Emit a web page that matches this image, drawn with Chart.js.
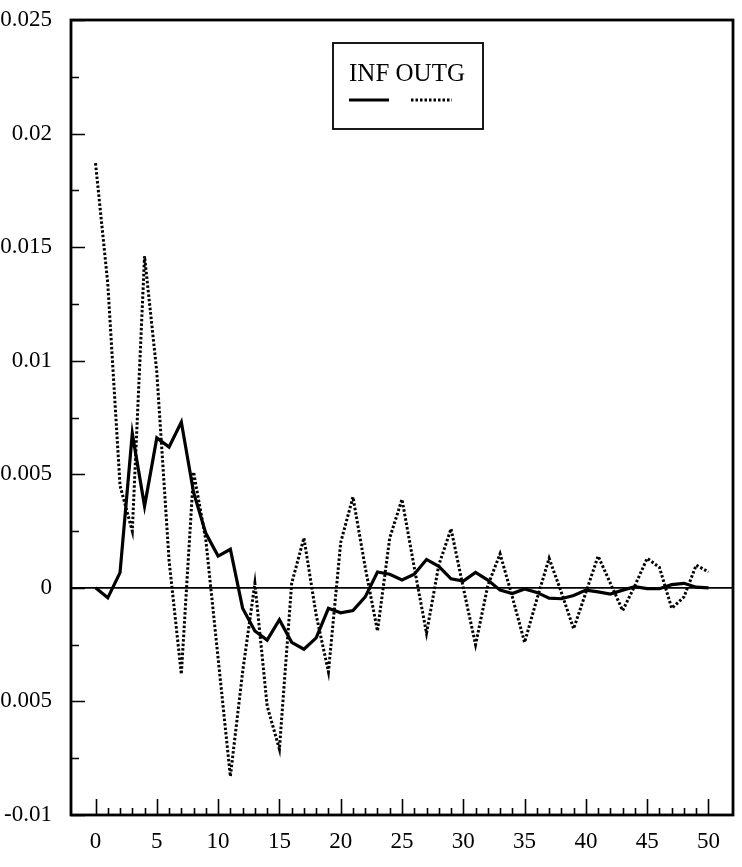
<!DOCTYPE html>
<html>
<head>
<meta charset="utf-8">
<title>INF OUTG</title>
<script src="https://cdn.jsdelivr.net/npm/chart.js@4.4.1/dist/chart.umd.min.js"></script>
<style>
  html, body { margin:0; padding:0; background:#fff; }
  #wrap { width:742px; height:867px; }
</style>
</head>
<body>
<div id="wrap"><canvas id="chart" width="742" height="867"></canvas></div>
<script>
// horizon (periods) and the two responses
const steps = [0,1,2,3,4,5,6,7,8,9,10,11,12,13,14,15,16,17,18,19,20,21,22,23,24,25,
  26,27,28,29,30,31,32,33,34,35,36,37,38,39,40,41,42,43,44,45,46,47,48,49,50];

const infValues = [0,-0.00044,0.00067,0.0068,0.0036,0.0066,0.0062,0.0073,0.0042,0.0024,
  0.0014,0.0017,-0.0009,-0.0019,-0.0023,-0.0014,-0.0024,-0.0027,-0.0022,-0.0009,
  -0.0011,-0.001,-0.0004,0.0007,0.0006,0.00035,0.0006,0.00125,0.00095,0.0004,
  0.0003,0.00068,0.00034,-0.0001,-0.00025,-0.00005,-0.0002,-0.00045,-0.00048,-0.00034,
  -0.0001,-0.00018,-0.00027,-0.0001,0.00005,-0.00003,-0.00004,0.00014,0.0002,0.00003,0];

const outgValues = [0.0187,0.0134,0.0045,0.0025,0.0146,0.0095,0.0012,-0.0038,0.0051,0.0021,
  -0.0031,-0.0083,-0.0037,0.0002,-0.0052,-0.0071,0.0002,0.0022,-0.0012,-0.0037,
  0.002,0.004,0.0009,-0.0019,0.0022,0.0039,0.0009,-0.002,0.001,0.0026,
  0,-0.0025,0.0001,0.0015,-0.0004,-0.0024,-0.0005,0.0013,-0.0002,-0.0018,
  -0.0002,0.0014,0.0002,-0.001,0.0001,0.0013,0.0009,-0.0009,-0.0004,0.001,0.0007];

const xTickValues = [0,5,10,15,20,25,30,35,40,45,50];
const xTickLabels = ['0','5','10','15','20','25','30','35','40','45','50'];
const yTickValues = [-0.01,-0.005,0,0.005,0.01,0.015,0.02,0.025];
const yTickLabels = ['-0.01','-0.005','0','0.005','0.01','0.015','0.02','0.025'];

const serif = "'Liberation Serif', 'Times New Roman', serif";

// frame, inward tick marks and the boxed legend
const framePlugin = {
  id: 'frame',
  afterDatasetsDraw(chart){
    const ctx = chart.ctx, a = chart.chartArea;
    const xs = chart.scales.x, ys = chart.scales.y;
    ctx.save();
    ctx.strokeStyle = '#000';
    ctx.lineWidth = 1.6;
    ctx.beginPath();
    for(let v=0; v<=50; v++){
      const px = Math.round(xs.getPixelForValue(v)) + 0.5;
      const len = v%5===0 ? 16 : 7;
      ctx.moveTo(px, a.bottom); ctx.lineTo(px, a.bottom-len);
    }
    for(let k=0; k<=14; k++){
      const v = -0.01 + k*0.0025;
      const py = Math.round(ys.getPixelForValue(v)) + 0.5;
      const len = k%2===0 ? 14 : 8;
      ctx.moveTo(a.left, py); ctx.lineTo(a.left+len, py);
    }
    ctx.stroke();
    ctx.lineWidth = 2.8;
    ctx.strokeRect(a.left, a.top, a.right-a.left, a.bottom-a.top);

    // legend
    const ds = chart.data.datasets;
    ctx.lineWidth = 1.8;
    ctx.fillStyle = '#fff';
    ctx.fillRect(333, 43, 150, 86);
    ctx.strokeRect(333, 43, 150, 86);
    ctx.fillStyle = '#000';
    ctx.font = '25px ' + serif;
    ctx.textBaseline = 'middle';
    ctx.textAlign = 'left';
    ctx.fillText(ds[0].label + ' ' + ds[1].label, 349, 74);
    ctx.lineWidth = ds[0].borderWidth;
    ctx.strokeStyle = ds[0].borderColor;
    ctx.beginPath(); ctx.moveTo(349, 100); ctx.lineTo(389, 100); ctx.stroke();
    ctx.lineWidth = ds[1].borderWidth;
    ctx.strokeStyle = ds[1].borderColor;
    ctx.setLineDash(ds[1].borderDash);
    ctx.beginPath(); ctx.moveTo(411, 100); ctx.lineTo(452, 100); ctx.stroke();
    ctx.restore();
  }
};

new Chart(document.getElementById('chart'), {
  type: 'line',
  data: {
    datasets: [
      { label: 'INF', data: steps.map((s,i)=>({x:s, y:infValues[i]})),
        borderColor: '#000', borderWidth: 3.2, pointRadius: 0, tension: 0, fill: false },
      { label: 'OUTG', data: steps.map((s,i)=>({x:s, y:outgValues[i]})),
        borderColor: '#000', borderWidth: 3, borderDash: [2.5,2], pointRadius: 0, tension: 0, fill: false }
    ]
  },
  options: {
    responsive: false,
    animation: false,
    devicePixelRatio: 1,
    layout: { padding: { top: 20, right: 9, bottom: 0, left: 0 } },
    plugins: { legend: { display: false }, tooltip: { enabled: false } },
    scales: {
      x: {
        type: 'linear', min: -2, max: 52,
        afterBuildTicks: s => { s.ticks = xTickValues.map(v=>({value:v})); },
        afterFit: s => { s.height = 52; },
        ticks: { callback: (v,i)=>xTickLabels[i], color:'#000', font:{family:serif, size:23},
                 padding: 5, maxRotation: 0, autoSkip: false },
        grid: { display: false },
        border: { display: false }
      },
      y: {
        type: 'linear', min: -0.01, max: 0.025,
        afterBuildTicks: s => { s.ticks = yTickValues.map(v=>({value:v})); },
        // fixed axis width; drop the extra top/bottom room the label padding asks for
        afterFit: s => { s.width = 71; s.paddingTop = 0; s.paddingBottom = 0; },
        ticks: { callback: (v,i)=>yTickLabels[i], color:'#000', font:{family:serif, size:23},
                 padding: 19, autoSkip: false },
        grid: { color: c => (c.tick && c.tick.value===0) ? '#000' : 'rgba(0,0,0,0)',
                lineWidth: 1.8, drawTicks: false },
        border: { display: false }
      }
    }
  },
  plugins: [framePlugin]
});
</script>
</body>
</html>
